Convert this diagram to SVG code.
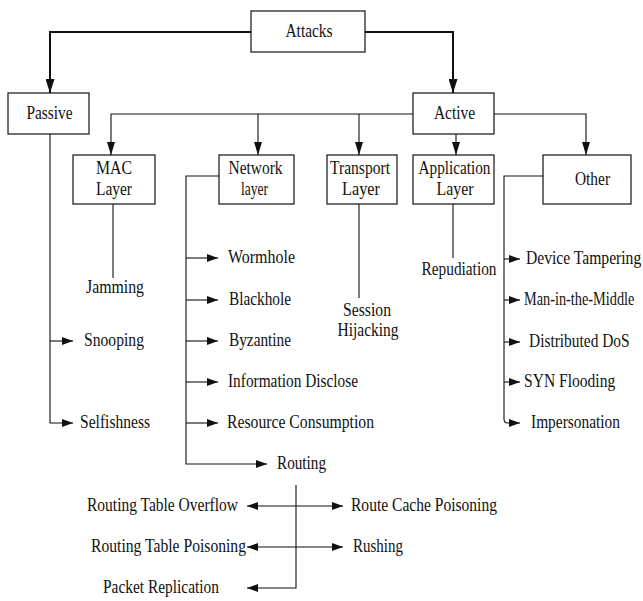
<svg xmlns="http://www.w3.org/2000/svg" width="643" height="601" viewBox="0 0 643 601">
  <style>
    text { font-family: "Liberation Serif", "Times New Roman", serif; font-size: 18px; fill: #111; }
    .box { fill: #fff; stroke: #111; stroke-width: 1.2; }
    .c { text-anchor: middle; }
    .ln { fill: none; stroke: #111; stroke-width: 1.1; }
    .thick { fill: none; stroke: #111; stroke-width: 2; }
  </style>
  <defs>
    <marker id="bigArrow" markerUnits="userSpaceOnUse" markerWidth="14" markerHeight="9" refX="14" refY="4.5" orient="auto">
      <path d="M0,0 L14,4.5 L0,9 z" fill="#111"/>
    </marker>
    <marker id="arrow" markerUnits="userSpaceOnUse" markerWidth="13" markerHeight="8" refX="13" refY="4" orient="auto">
      <path d="M0,0 L13,4 L0,8 z" fill="#111"/>
    </marker>
    <marker id="tip" markerUnits="userSpaceOnUse" markerWidth="11" markerHeight="8" refX="11" refY="4" orient="auto">
      <path d="M0,0 L11,4 L0,8 z" fill="#111"/>
    </marker>
    <marker id="tipStart" markerUnits="userSpaceOnUse" markerWidth="11" markerHeight="8" refX="0" refY="4" orient="auto">
      <path d="M11,0 L0,4 L11,8 z" fill="#111"/>
    </marker>
  </defs>

  <!-- connectors -->
  <g id="connectors">
    <!-- root to the two attack families -->
    <path class="thick" d="M251,32 H50 V93" marker-end="url(#bigArrow)"/>
    <path class="thick" d="M365,32 H453 V93" marker-end="url(#bigArrow)"/>

    <!-- active to layers -->
    <path class="ln" d="M413,114 H111 V155" marker-end="url(#arrow)"/>
    <path class="ln" d="M258,114 V155" marker-end="url(#arrow)"/>
    <path class="ln" d="M359,114 V155" marker-end="url(#arrow)"/>
    <path class="ln" d="M456,134 V155" marker-end="url(#arrow)"/>
    <path class="ln" d="M494,114 H586 V155" marker-end="url(#arrow)"/>

    <!-- passive leaves -->
    <path class="ln" d="M50,134 V423 H73" marker-end="url(#tip)"/>
    <path class="ln" d="M50,341 H73" marker-end="url(#tip)"/>

    <!-- single-leaf layers -->
    <path class="ln" d="M113,204 V278"/>
    <path class="ln" d="M359,204 V298"/>
    <path class="ln" d="M453,204 V258"/>

    <!-- network layer leaves -->
    <path class="ln" d="M219,176 H186 V464 H267" marker-end="url(#tip)"/>
    <path class="ln" d="M186,258 H218" marker-end="url(#tip)"/>
    <path class="ln" d="M186,300 H218" marker-end="url(#tip)"/>
    <path class="ln" d="M186,341 H218" marker-end="url(#tip)"/>
    <path class="ln" d="M186,382 H218" marker-end="url(#tip)"/>
    <path class="ln" d="M186,423 H218" marker-end="url(#tip)"/>

    <!-- other leaves -->
    <path class="ln" d="M543,176 H504 V419 Q504,423 508,423 H520" marker-end="url(#tip)"/>
    <path class="ln" d="M504,259 H520" marker-end="url(#tip)"/>
    <path class="ln" d="M504,300 H520" marker-end="url(#tip)"/>
    <path class="ln" d="M504,342 H520" marker-end="url(#tip)"/>
    <path class="ln" d="M504,382 H520" marker-end="url(#tip)"/>

    <!-- routing sub-attacks -->
    <path class="ln" d="M296,485 V588 H247" marker-end="url(#tip)"/>
    <path class="ln" d="M247,506 H343" marker-start="url(#tipStart)" marker-end="url(#tip)"/>
    <path class="ln" d="M247,547 H343" marker-start="url(#tipStart)" marker-end="url(#tip)"/>
  </g>

  <!-- boxed nodes -->
  <g id="attacks">
    <rect class="box" x="251" y="11" width="114" height="41"/>
    <text class="c" x="309" y="37" textLength="47" lengthAdjust="spacingAndGlyphs">Attacks</text>
  </g>
  <g id="passive">
    <rect class="box" x="8" y="93" width="81" height="41"/>
    <text class="c" x="49.5" y="119" textLength="46" lengthAdjust="spacingAndGlyphs">Passive</text>
  </g>
  <g id="active">
    <rect class="box" x="413" y="93" width="81" height="41"/>
    <text class="c" x="454.5" y="119" textLength="41" lengthAdjust="spacingAndGlyphs">Active</text>
  </g>
  <g id="mac-layer">
    <rect class="box" x="73" y="155" width="82" height="49"/>
    <text class="c" x="114" y="174" textLength="36" lengthAdjust="spacingAndGlyphs">MAC</text>
    <text class="c" x="114" y="195" textLength="36" lengthAdjust="spacingAndGlyphs">Layer</text>
  </g>
  <g id="network-layer">
    <rect class="box" x="219" y="155" width="75" height="49"/>
    <text class="c" x="255.5" y="174" textLength="54" lengthAdjust="spacingAndGlyphs">Network</text>
    <text class="c" x="254.5" y="195" textLength="27" lengthAdjust="spacingAndGlyphs">layer</text>
  </g>
  <g id="transport-layer">
    <rect class="box" x="327" y="155" width="70" height="49"/>
    <text class="c" x="360" y="174" textLength="60" lengthAdjust="spacingAndGlyphs">Transport</text>
    <text class="c" x="361" y="195" textLength="38" lengthAdjust="spacingAndGlyphs">Layer</text>
  </g>
  <g id="application-layer">
    <rect class="box" x="413" y="155" width="81" height="49"/>
    <text class="c" x="454.5" y="174" textLength="72" lengthAdjust="spacingAndGlyphs">Application</text>
    <text class="c" x="455" y="195" textLength="37" lengthAdjust="spacingAndGlyphs">Layer</text>
  </g>
  <g id="other">
    <rect class="box" x="543" y="155" width="88" height="49"/>
    <text class="c" x="592.5" y="185" textLength="35" lengthAdjust="spacingAndGlyphs">Other</text>
  </g>

  <!-- leaf attacks -->
  <g id="jamming"><text class="c" x="115" y="293" textLength="58" lengthAdjust="spacingAndGlyphs">Jamming</text></g>
  <g id="snooping"><text x="84" y="346" textLength="60" lengthAdjust="spacingAndGlyphs">Snooping</text></g>
  <g id="selfishness"><text x="80" y="428" textLength="70" lengthAdjust="spacingAndGlyphs">Selfishness</text></g>

  <g id="wormhole"><text x="228" y="263" textLength="67" lengthAdjust="spacingAndGlyphs">Wormhole</text></g>
  <g id="blackhole"><text x="229" y="305" textLength="62" lengthAdjust="spacingAndGlyphs">Blackhole</text></g>
  <g id="byzantine"><text x="229" y="346" textLength="62" lengthAdjust="spacingAndGlyphs">Byzantine</text></g>
  <g id="information-disclose"><text x="228" y="387" textLength="130" lengthAdjust="spacingAndGlyphs">Information Disclose</text></g>
  <g id="resource-consumption"><text x="227" y="428" textLength="147" lengthAdjust="spacingAndGlyphs">Resource Consumption</text></g>
  <g id="routing"><text x="277" y="469" textLength="49" lengthAdjust="spacingAndGlyphs">Routing</text></g>

  <g id="session-hijacking">
    <text class="c" x="367" y="316" textLength="48" lengthAdjust="spacingAndGlyphs">Session</text>
    <text class="c" x="368" y="336" textLength="61" lengthAdjust="spacingAndGlyphs">Hijacking</text>
  </g>
  <g id="repudiation"><text class="c" x="459" y="275" textLength="75" lengthAdjust="spacingAndGlyphs">Repudiation</text></g>

  <!-- right-hand column: condensed horizontally so the labels stay inside the frame -->
  <g id="device-tampering"><text transform="translate(526,264) scale(0.86,1)" textLength="134" lengthAdjust="spacingAndGlyphs">Device Tampering</text></g>
  <g id="man-in-the-middle"><text transform="translate(524,305) scale(0.8,1)" textLength="138" lengthAdjust="spacingAndGlyphs">Man-in-the-Middle</text></g>
  <g id="distributed-dos"><text transform="translate(529,347) scale(0.86,1)" textLength="117" lengthAdjust="spacingAndGlyphs">Distributed DoS</text></g>
  <g id="syn-flooding"><text transform="translate(524,387) scale(0.8,1)" textLength="114" lengthAdjust="spacingAndGlyphs">SYN Flooding</text></g>
  <g id="impersonation"><text x="531" y="428" textLength="89" lengthAdjust="spacingAndGlyphs">Impersonation</text></g>

  <g id="routing-table-overflow"><text x="87" y="511" textLength="151" lengthAdjust="spacingAndGlyphs">Routing Table Overflow</text></g>
  <g id="route-cache-poisoning"><text x="351" y="511" textLength="146" lengthAdjust="spacingAndGlyphs">Route Cache Poisoning</text></g>
  <g id="routing-table-poisoning"><text x="91" y="552" textLength="155" lengthAdjust="spacingAndGlyphs">Routing Table Poisoning</text></g>
  <g id="rushing"><text x="353" y="552" textLength="50" lengthAdjust="spacingAndGlyphs">Rushing</text></g>
  <g id="packet-replication"><text x="103" y="593" textLength="116" lengthAdjust="spacingAndGlyphs">Packet Replication</text></g>
</svg>
